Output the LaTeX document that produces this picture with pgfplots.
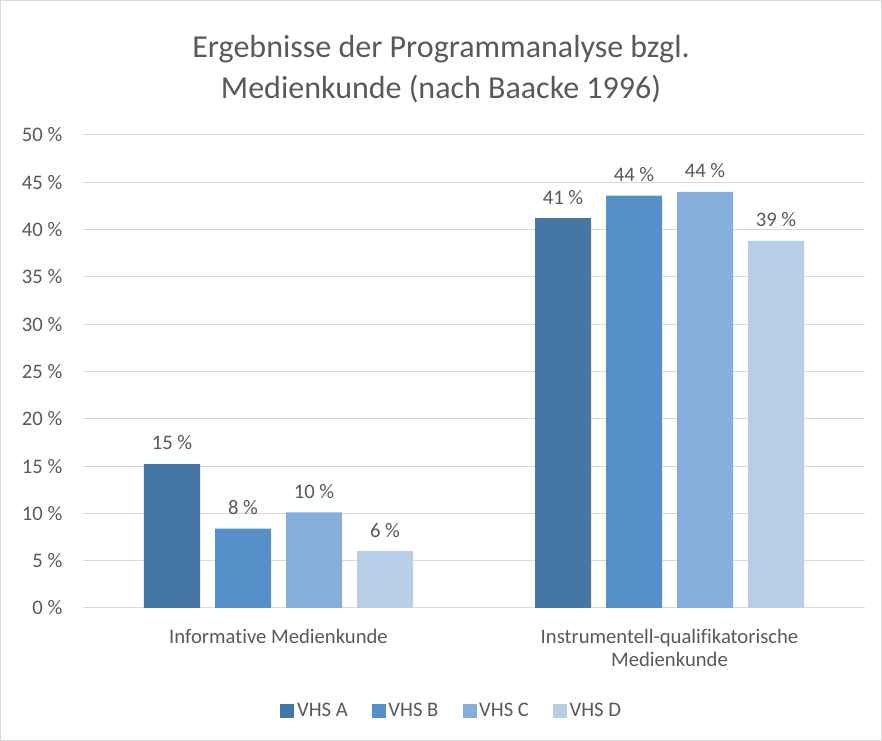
\documentclass[border=0pt]{standalone}
\usepackage{fontspec}
\setmainfont{Carlito}[Ligatures=NoCommon]
\usepackage{pgfplots}
\pgfplotsset{compat=1.18}

\definecolor{txt}{HTML}{595959}
\definecolor{gridc}{HTML}{D9D9D9}
\definecolor{vhsA}{HTML}{4676A4}
\definecolor{vhsB}{HTML}{5591C8}
\definecolor{vhsC}{HTML}{85AEDB}
\definecolor{vhsD}{HTML}{B7CDE8}

\begin{document}
\begin{tikzpicture}
% chart frame (882 x 741 px, 1 px = 0.75pt)
\draw[gridc, line width=0.75pt] (0.375pt,0.375pt) rectangle (661.125pt,555.375pt);

\node[txt, font=\fontsize{24}{30.5}\selectfont, align=center] at (330.75pt,504pt)
  {Ergebnisse der Programmanalyse bzgl.\\Medienkunde (nach Baacke 1996)};

\begin{axis}[
    at={(62.25pt,99.75pt)}, anchor=south west,
    scale only axis,
    width=586.5pt, height=354.75pt,
    xmin=-0.5, xmax=1.5,
    ymin=0, ymax=50,
    ybar=11.25pt, bar width=42pt,
    xtick={0,1},
    xticklabels={Informative Medienkunde, {Instrumentell-qualifikatorische\\Medienkunde}},
    xticklabel style={align=center, text=txt, font=\fontsize{15.5}{17}\selectfont, yshift=-8pt},
    ytick={0,5,...,50},
    yticklabels={0 \%,5 \%,10 \%,15 \%,20 \%,25 \%,30 \%,35 \%,40 \%,45 \%,50 \%},
    yticklabel style={text=txt, font=\fontsize{15.5}{17}\selectfont, xshift=-12pt},
    tick style={draw=none},
    axis line style={draw=none},
    ymajorgrids,
    major grid style={gridc, line width=0.75pt},
    point meta=explicit symbolic,
    nodes near coords,
    every node near coord/.append style={text=txt, font=\fontsize{15.5}{17}\selectfont, yshift=7pt},
    legend columns=4,
    legend style={at={(axis description cs:0.472,-0.218)}, anchor=center, draw=none,
        font=\fontsize{15.5}{17}\selectfont, text=txt,
        /tikz/every even column/.append style={column sep=16pt}},
    legend image code/.code={\fill[#1, draw=none] (0pt,-5pt) rectangle (10.5pt,5pt);},
]
\addplot[fill=vhsA, draw=none] coordinates {(0,15.2) [15 \%] (1,41.2) [41 \%]};
\addlegendentry{VHS A}
\addplot[fill=vhsB, draw=none] coordinates {(0,8.4) [8 \%] (1,43.6) [44 \%]};
\addlegendentry{VHS B}
\addplot[fill=vhsC, draw=none] coordinates {(0,10.1) [10 \%] (1,44.0) [44 \%]};
\addlegendentry{VHS C}
\addplot[fill=vhsD, draw=none] coordinates {(0,6.0) [6 \%] (1,38.8) [39 \%]};
\addlegendentry{VHS D}
\end{axis}
\end{tikzpicture}
\end{document}
